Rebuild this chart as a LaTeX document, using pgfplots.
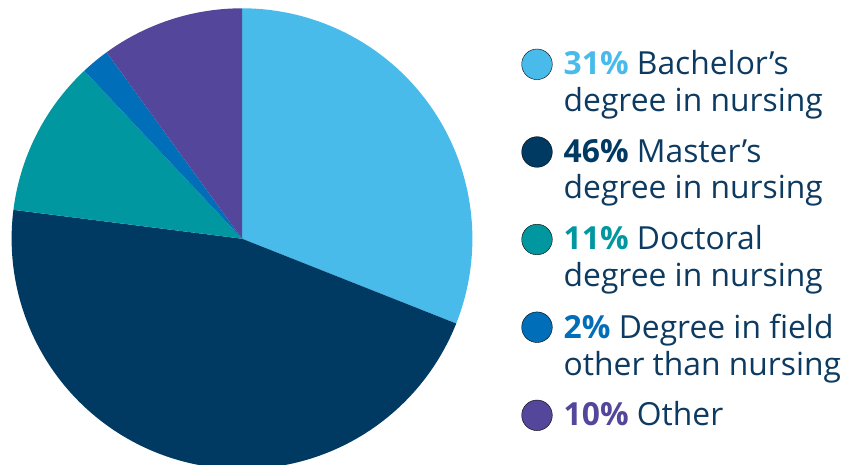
\documentclass[border=0pt]{standalone}
\usepackage{pgfplots}
\pgfplotsset{compat=1.18}
\usepackage{fontspec}
\setmainfont{Open Sans}
\definecolor{cBach}{HTML}{48BBEB}
\definecolor{cMast}{HTML}{003A63}
\definecolor{cDoct}{HTML}{0097A0}
\definecolor{cField}{HTML}{006EB8}
\definecolor{cOther}{HTML}{54469A}
\definecolor{txt}{HTML}{0D3A60}
% slice: #1 start angle, #2 percent, #3 colour (clockwise from top)
\newcommand\slice[3]{%
  \addplot[fill=#3, draw=none, domain={#1}:{#1-3.6*#2}, samples=150]
    ({230.4*cos(x)},{230.4*sin(x)}) -- (axis cs:0,0) -- cycle;}
\newcommand\legcircle[3]{%
  \addplot[only marks, mark=*, mark size=15.3pt, mark options={fill=#3, draw=none}]
    coordinates {(#1,#2)};}
\begin{document}
\begin{tikzpicture}
\begin{axis}[
  x=1pt, y=1pt,
  xmin=-242, xmax=607, ymin=-225.3, ymax=238.7,
  hide axis, clip=true,
]
\path (rel axis cs:0,0) rectangle (rel axis cs:1,1);
% pie: percentages 31, 46, 11, 2, 10
\slice{90}{31}{cBach}
\slice{-21.6}{46}{cMast}
\slice{-187.2}{11}{cDoct}
\slice{-226.8}{2}{cField}
\slice{-234}{10}{cOther}
% legend markers
\legcircle{295}{174.4}{cBach}
\legcircle{295}{86.7}{cMast}
\legcircle{295}{-0.8}{cDoct}
\legcircle{295}{-88.5}{cField}
\legcircle{295}{-176.6}{cOther}
\begin{scope}[every node/.style={anchor=base west, inner sep=0pt, text=txt, font=\fontsize{31.8}{36}\selectfont}]
\node at (axis cs:321.5,163.7) {\textbf{\textcolor{cBach}{31\%}} Bachelor’s};
\node at (axis cs:321.5,127.0) {degree in nursing};
\node at (axis cs:321.5,76.4) {\textbf{\textcolor{cMast}{46\%}} Master’s};
\node at (axis cs:321.5,39.7) {degree in nursing};
\node at (axis cs:321.5,-11.3) {\textbf{\textcolor{cDoct}{11\%}} Doctoral};
\node at (axis cs:321.5,-48.0) {degree in nursing};
\node at (axis cs:321.5,-99.6) {\textbf{\textcolor{cField}{2\%}} Degree in field};
\node at (axis cs:321.5,-136.3) {other than nursing};
\node at (axis cs:321.5,-186.3) {\textbf{\textcolor{cOther}{10\%}} Other};
\end{scope}
\end{axis}
\end{tikzpicture}
\end{document}
